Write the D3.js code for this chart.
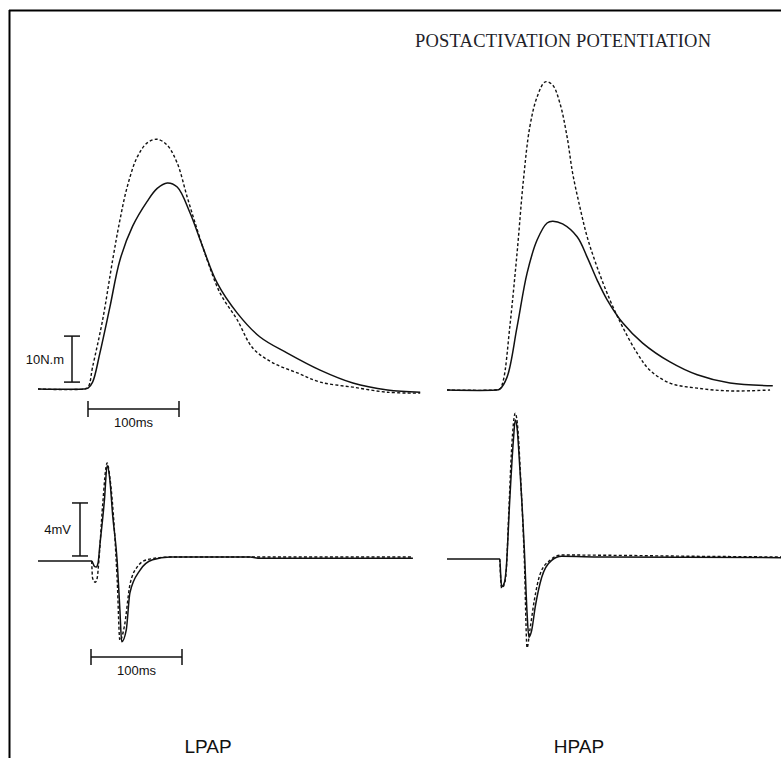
<!DOCTYPE html>
<html>
<head>
<meta charset="utf-8">
<script src="https://cdn.jsdelivr.net/npm/d3@7"></script>
<style>
  body { margin: 0; background: #fff; }
  svg { display: block; }
</style>
</head>
<body>
<svg id="chart" width="781" height="758"></svg>
<script>
// time in ms, torque in N.m, EMG in mV
const lpapTorqueBefore = [
  [0, 0], [50, 0], [55, 0.2], [60, 1.5], [68, 7.8], [79, 17.8], [90, 28.0],
  [104, 35.4], [120, 40.8], [131, 43.6], [142, 44.8], [153, 43.9], [167, 38.3],
  [181, 30.9], [197, 23.0], [219, 16.5], [244, 11.3], [274, 7.8], [310, 4.1],
  [346, 1.3], [384, -0.2], [420, -0.7]
];
const lpapTorqueAfter = [
  [0, 0], [50, 0], [55, 0.4], [60, 4.8], [71, 15], [82, 28], [90, 36.7],
  [98, 43.9], [109, 50.4], [120, 53.5], [131, 54.3], [142, 53], [153, 49.1],
  [164, 41.7], [175, 34.6], [186, 28], [200, 20.9], [219, 15], [236, 8.9],
  [258, 5.7], [285, 3.5], [310, 1.5], [346, 0.4], [384, -0.7], [420, -0.9]
];
const hpapTorqueBefore = [
  [0, 0], [53, 0], [58, 0.2], [66, 2.8], [77, 13.7], [88, 25.4], [99, 32.6],
  [110, 36.3], [116, 36.7], [127, 36.1], [143, 33.3], [154, 28.9], [165, 23.9],
  [176, 19.6], [193, 14.6], [215, 10.2], [245, 6.1], [275, 3.3], [311, 1.5],
  [358, 0.9]
];
const hpapTorqueAfter = [
  [0, 0], [53, 0], [58, 0.2], [62, 2.2], [69, 13.7], [77, 29.8], [84, 45.7],
  [91, 57.2], [99, 63.7], [108, 67], [116, 66.3], [124, 62.4], [132, 55],
  [138, 47.2], [146, 39.8], [154, 33.3], [165, 26.7], [179, 19.6], [193, 13.7],
  [209, 8], [223, 4.3], [245, 1.5], [275, 0.4], [311, -0.2], [355, 0]
];
const lpapEmgBefore = [
  [0, 0], [59, 0], [62, -0.4], [64, -0.45], [66, -0.15], [68, 1.2], [73, 4.6],
  [76, 7.2], [79, 6.1], [82, 3.5], [87, 0], [90, -3.7], [92, -6.1], [97, -5.2],
  [101, -2.4], [112, -0.7], [126, 0.1], [145, 0.3], [233, 0.3], [244, 0.2],
  [412, 0.2]
];
const lpapEmgAfter = [
  [59, 0], [60, -1.3], [63, -1.6], [65, -1.3], [67, 0.1], [71, 4.2], [76, 7.4],
  [79, 6.3], [84, 2.3], [87, -1.4], [90, -6.0], [95, -4.9], [101, -1.8],
  [109, -0.45], [120, 0.1], [145, 0.3], [412, 0.3]
];
const hpapEmgBefore = [
  [0, 0], [58, 0], [59, -1.2], [60, -2.1], [63, -1.8], [65, -0.8], [69, 4.5],
  [73, 9.0], [75, 10.5], [77, 9.9], [80, 6.9], [85, 0.7], [88, -4.1], [90, -5.9],
  [93, -5.4], [97, -3.6], [104, -1.4], [115, -0.1], [126, 0.2], [170, 0.15],
  [368, 0.1]
];
const hpapEmgAfter = [
  [58, 0], [60, -2.2], [63, -1.9], [65, -1.0], [68, 3.7], [71, 8.3], [75, 11.0],
  [78, 9.7], [81, 6.0], [85, -0.1], [88, -6.7], [91, -5.4], [96, -3.1],
  [102, -1.2], [113, -0.1], [126, 0.3], [280, 0.2], [368, 0.15]
];
const panelLabels = ["LPAP", "HPAP"];
const title = "POSTACTIVATION POTENTIATION";

const svg = d3.select("#chart");

// frame (top and left rules only)
svg.append("line").attr("x1", 9).attr("x2", 781).attr("y1", 10.5).attr("y2", 10.5)
  .attr("stroke", "#000").attr("stroke-width", 2);
svg.append("line").attr("x1", 9.5).attr("x2", 9.5).attr("y1", 10).attr("y2", 758)
  .attr("stroke", "#000").attr("stroke-width", 2);

svg.append("text")
  .attr("x", 415).attr("y", 47)
  .attr("font-family", "Liberation Serif, Times New Roman, serif")
  .attr("font-size", 18.5)
  .attr("textLength", 296)
  .attr("lengthAdjust", "spacing")
  .attr("fill", "#222228")
  .text(title);

const pxPerMs = 0.91;
const panels = [
  { x0: 38, torqueBase: 389, emgBase: 561, torque: [lpapTorqueBefore, lpapTorqueAfter],
    emg: [lpapEmgBefore, lpapEmgAfter], label: panelLabels[0], labelX: 208 },
  { x0: 447, torqueBase: 390, emgBase: 559, torque: [hpapTorqueBefore, hpapTorqueAfter],
    emg: [hpapEmgBefore, hpapEmgAfter], label: panelLabels[1], labelX: 579 }
];

function drawTrace(path, line, dashed) {
  svg.append("path")
    .datum(path)
    .attr("d", line)
    .attr("fill", "none")
    .attr("stroke", "#111")
    .attr("stroke-width", dashed ? 1.4 : 1.5)
    .attr("stroke-dasharray", dashed ? "3,2.2" : null)
    .attr("stroke-linejoin", "round");
}

panels.forEach(function (p, i) {
  const x = d3.scaleLinear().domain([0, 100]).range([p.x0, p.x0 + 100 * pxPerMs]);
  const yT = d3.scaleLinear().domain([0, 10]).range([p.torqueBase, p.torqueBase - 46]);
  const yE = d3.scaleLinear().domain([0, 4]).range([p.emgBase, p.emgBase - 53]);

  const torqueLine = d3.line().x(d => x(d[0])).y(d => yT(d[1])).curve(d3.curveCatmullRom.alpha(0.5));
  const emgLine = d3.line().x(d => x(d[0])).y(d => yE(d[1])).curve(d3.curveMonotoneX);

  drawTrace(p.torque[0], torqueLine, false);
  drawTrace(p.torque[1], torqueLine, true);
  drawTrace(p.emg[0], emgLine, false);
  drawTrace(p.emg[1], emgLine, true);

  svg.append("text")
    .attr("x", p.labelX).attr("y", 753)
    .attr("text-anchor", "middle")
    .attr("font-family", "Liberation Sans, Arial, sans-serif")
    .attr("font-size", 19)
    .attr("fill", "#111")
    .text(p.label);

  if (i === 0) {
    // calibration bars
    const bar = svg.append("g").attr("stroke", "#111").attr("stroke-width", 1.5);
    // 10 N.m
    const bx = 72;
    bar.append("line").attr("x1", bx).attr("x2", bx).attr("y1", yT(1.5)).attr("y2", yT(11.5));
    [1.5, 11.5].forEach(v => bar.append("line").attr("x1", bx - 8).attr("x2", bx + 8)
      .attr("y1", yT(v)).attr("y2", yT(v)));
    // 4 mV
    const ex = 80;
    bar.append("line").attr("x1", ex).attr("x2", ex).attr("y1", yE(0.38)).attr("y2", yE(4.38));
    [0.38, 4.38].forEach(v => bar.append("line").attr("x1", ex - 8).attr("x2", ex + 8)
      .attr("y1", yE(v)).attr("y2", yE(v)));
    // 100 ms (torque and EMG)
    [[88, 409], [91, 657]].forEach(function (b) {
      const x1 = b[0], x2 = b[0] + x(100) - x(0);
      bar.append("line").attr("x1", x1).attr("x2", x2).attr("y1", b[1]).attr("y2", b[1]);
      [x1, x2].forEach(xx => bar.append("line").attr("x1", xx).attr("x2", xx)
        .attr("y1", b[1] - 8).attr("y2", b[1] + 8));
      svg.append("text").attr("x", (x1 + x2) / 2).attr("y", b[1] + 18)
        .attr("text-anchor", "middle")
        .attr("font-family", "Liberation Sans, Arial, sans-serif")
        .attr("font-size", 13).attr("fill", "#111")
        .text("100ms");
    });
    svg.append("text").attr("x", bx - 8).attr("y", yT(6.5) + 5)
      .attr("text-anchor", "end")
      .attr("font-family", "Liberation Sans, Arial, sans-serif")
      .attr("font-size", 13).attr("fill", "#111")
      .text("10N.m");
    svg.append("text").attr("x", ex - 9).attr("y", yE(2.38) + 5)
      .attr("text-anchor", "end")
      .attr("font-family", "Liberation Sans, Arial, sans-serif")
      .attr("font-size", 13).attr("fill", "#111")
      .text("4mV");
  }
});
</script>
</body>
</html>
